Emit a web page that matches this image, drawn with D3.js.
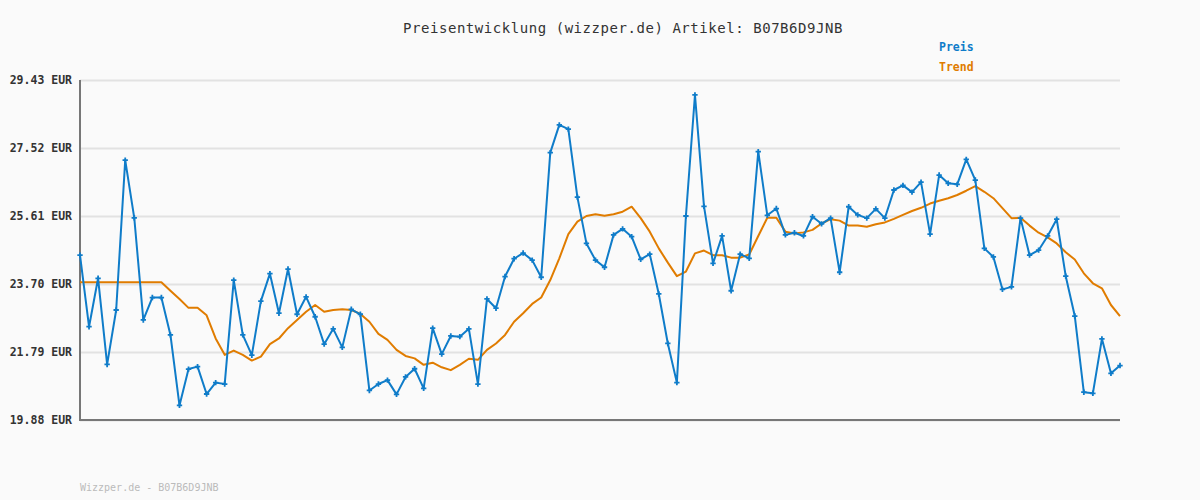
<!DOCTYPE html>
<html>
<head>
<meta charset="utf-8">
<script src="https://cdn.jsdelivr.net/npm/d3@7"></script>
<style>
html,body{margin:0;padding:0;background:#fafafa;}
svg{display:block;}
</style>
</head>
<body>
<svg id="chart" width="1200" height="500"></svg>
<script>
const titleText = "Preisentwicklung (wizzper.de) Artikel: B07B6D9JNB";
const footerText = "Wizzper.de - B07B6D9JNB";
const seriesNames = ["Preis", "Trend"];
const yTicks = [19.88, 21.79, 23.70, 25.61, 27.52, 29.43];
const yTickLabels = ["19.88 EUR", "21.79 EUR", "23.70 EUR", "25.61 EUR", "27.52 EUR", "29.43 EUR"];

const preis = [
24.51,22.50,23.86,21.44,22.97,27.18,25.56,22.69,23.32,23.32,
22.27,20.29,21.31,21.38,20.61,20.93,20.89,23.81,22.27,21.70,
23.22,23.99,22.88,24.12,22.85,23.34,22.78,22.01,22.44,21.92,
22.99,22.85,20.71,20.89,21.00,20.60,21.09,21.32,20.77,22.46,
21.73,22.24,22.22,22.44,20.89,23.28,23.02,23.91,24.41,24.57,
24.37,23.89,27.39,28.17,28.05,26.14,24.84,24.37,24.17,25.08,
25.25,25.03,24.39,24.54,23.42,22.03,20.93,25.61,29.01,25.88,
24.28,25.05,23.51,24.54,24.42,27.42,25.63,25.82,25.08,25.14,
25.05,25.59,25.39,25.55,24.03,25.87,25.64,25.55,25.81,25.55,
26.34,26.47,26.28,26.56,25.10,26.76,26.53,26.50,27.20,26.62,
24.70,24.46,23.55,23.62,25.55,24.51,24.65,25.05,25.52,23.92,
22.80,20.66,20.63,22.16,21.19,21.41
];

const trend = [
23.75,23.75,23.75,23.75,23.75,23.75,23.75,23.75,23.75,23.75,
23.51,23.28,23.03,23.03,22.82,22.17,21.71,21.83,21.71,21.55,
21.66,22.01,22.17,22.46,22.69,22.92,23.11,22.92,22.97,22.99,
22.97,22.86,22.64,22.30,22.13,21.85,21.68,21.61,21.43,21.49,
21.36,21.28,21.43,21.60,21.57,21.85,22.03,22.27,22.64,22.88,
23.14,23.32,23.81,24.42,25.10,25.45,25.61,25.66,25.62,25.66,
25.73,25.87,25.55,25.17,24.70,24.30,23.92,24.05,24.56,24.64,
24.51,24.51,24.44,24.44,24.53,25.05,25.56,25.56,25.17,25.12,
25.15,25.22,25.40,25.52,25.48,25.34,25.34,25.31,25.38,25.43,
25.53,25.64,25.75,25.84,25.96,26.04,26.11,26.20,26.32,26.45,
26.29,26.11,25.83,25.55,25.56,25.34,25.14,25.01,24.84,24.59,
24.39,24.00,23.72,23.58,23.11,22.80
];

const colors = {preis: "#0f7cc9", trend: "#e07c00"};

const svg = d3.select("#chart");
const pLeft = 80, pRight = 1120, pTop = 80, pBottom = 420;

const x = d3.scaleLinear().domain([0, preis.length - 1]).range([pLeft, pRight]);
const y = d3.scaleLinear().domain([yTicks[0], yTicks[yTicks.length - 1]]).range([pBottom, pTop]);

svg.append("rect").attr("width", 1200).attr("height", 500).attr("fill", "#fafafa");

// title
svg.append("text")
  .attr("x", 623).attr("y", 33)
  .attr("text-anchor", "middle")
  .attr("font-family", "DejaVu Sans Mono, monospace")
  .attr("font-size", 14)
  .attr("letter-spacing", 0.55)
  .attr("fill", "#333")
  .text(titleText);

// gridlines + labels
const yAxis = d3.axisLeft(y).tickValues(yTicks)
  .tickSize(-(pRight - pLeft)).tickPadding(8)
  .tickFormat((d, i) => yTickLabels[i]);
const gy = svg.append("g").attr("transform", `translate(${pLeft},0)`).call(yAxis);
gy.select(".domain").remove();
gy.selectAll(".tick line").attr("stroke", "#e2e2e2").attr("stroke-width", 2);
gy.selectAll(".tick text")
  .attr("x", -8)
  .attr("font-family", "DejaVu Sans Mono, monospace")
  .attr("font-size", 11.5)
  .attr("font-weight", "bold")
  .attr("fill", "#333");

// axes lines
svg.append("line").attr("x1", pLeft).attr("x2", pLeft).attr("y1", pTop).attr("y2", pBottom + 1)
  .attr("stroke", "#777").attr("stroke-width", 2);
svg.append("line").attr("x1", pLeft - 1).attr("x2", pRight).attr("y1", pBottom).attr("y2", pBottom)
  .attr("stroke", "#777").attr("stroke-width", 2);

const line = d3.line().x((d, i) => x(i)).y(d => y(d));

svg.append("path").datum(trend)
  .attr("fill", "none").attr("stroke", colors.trend).attr("stroke-width", 2)
  .attr("stroke-linejoin", "round")
  .attr("d", line);

svg.append("path").datum(preis)
  .attr("fill", "none").attr("stroke", colors.preis).attr("stroke-width", 2)
  .attr("stroke-linejoin", "round")
  .attr("d", line);

// markers (small plus)
const cross = d3.symbol().type(d3.symbolCross).size(16);
svg.append("g").selectAll("path").data(preis).join("path")
  .attr("transform", (d, i) => `translate(${x(i)},${y(d)})`)
  .attr("d", cross)
  .attr("fill", colors.preis);

// legend
const legend = svg.append("g");
seriesNames.forEach((name, i) => {
  legend.append("text")
    .attr("x", 939).attr("y", 51 + i * 20)
    .attr("font-family", "DejaVu Sans Mono, monospace")
    .attr("font-size", 11.5)
    .attr("font-weight", "bold")
    .attr("fill", i === 0 ? colors.preis : colors.trend)
    .text(name);
});

// footer
svg.append("text")
  .attr("x", 80).attr("y", 491)
  .attr("font-family", "DejaVu Sans Mono, monospace")
  .attr("font-size", 10)
  .attr("fill", "#bbb")
  .text(footerText);
</script>
</body>
</html>
